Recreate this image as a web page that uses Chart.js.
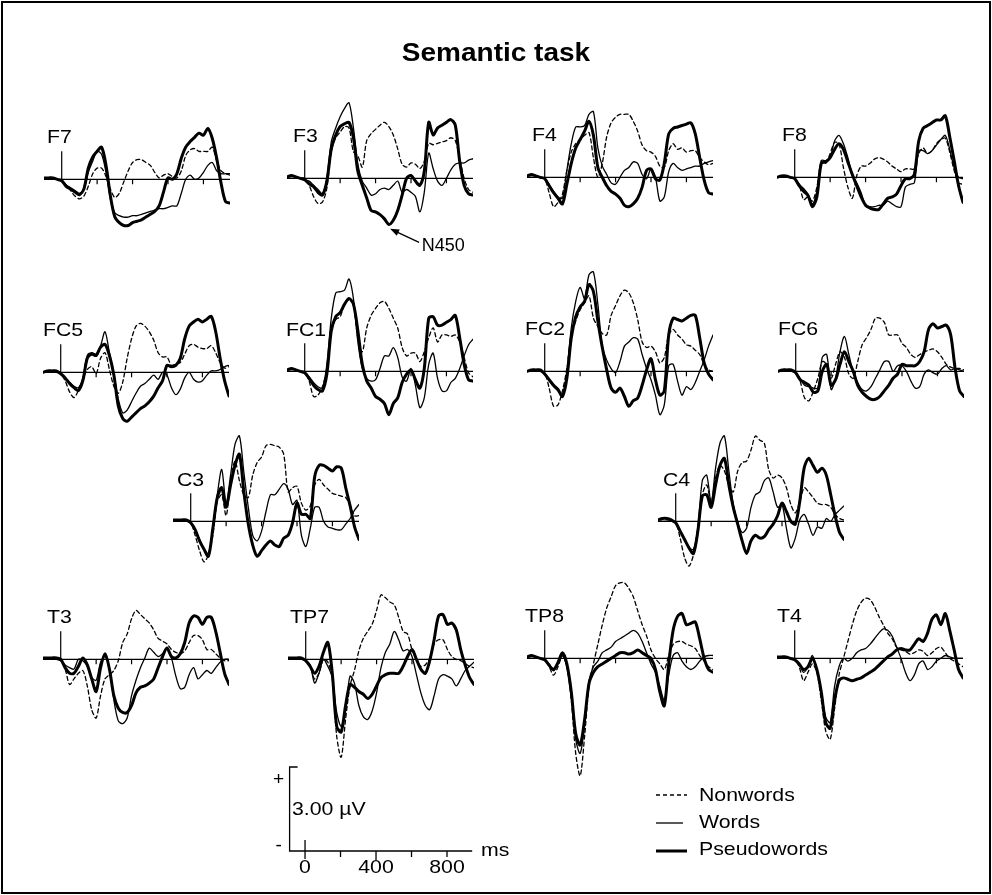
<!DOCTYPE html>
<html><head><meta charset="utf-8">
<script src="https://cdn.jsdelivr.net/npm/chart.js@4.4.1/dist/chart.umd.min.js"></script>
<style>
html,body{margin:0;padding:0;background:#fff;}
body{width:992px;height:895px;position:relative;overflow:hidden;}
canvas{position:absolute;}
#frame{position:absolute;left:1px;top:1px;width:986px;height:889px;border:2px solid #000;}
</style></head>
<body>
<div id="frame"></div>
<script>
// ---- time axis (ms) ----
const TIMES = [-100,-75,-50,-25,0,25,50,75,100,125,150,175,200,225,250,275,300,325,350,375,400,425,450,475,500,525,550,575,600,625,650,675,700,725,750,775,800,825,850,875,900,925,950];
const TICK_MS = [200,400,600,800];
const X_MIN = -100, X_MAX = 950;
const Y_MIN = -4.6, Y_MAX = 3.8; // µV
const ZERO_MARK_UV = 1.0;
const SERIES_NAMES = ['Nonwords','Words','Pseudowords'];

// ---- amplitudes (µV) ----
const F7_NON = [0,0,0,0,-0.05,-0.2,-0.4,-0.6,-0.7,-0.6,-0.25,0.2,0.4,0.4,0.1,-0.35,-0.65,-0.5,-0.1,0.3,0.6,0.7,0.7,0.6,0.5,0.25,0.05,0.15,0.2,0.1,0.05,0.3,0.85,1.05,1.1,1.0,1.0,1.0,1.15,0.65,0.3,0.2,0.15];
const F7_WORD = [0,0,0,0,-0.05,-0.2,-0.3,-0.4,-0.5,-0.35,0.25,0.65,1.0,0.9,0.25,-0.7,-1.2,-1.3,-1.35,-1.35,-1.3,-1.3,-1.25,-1.2,-1.15,-1.1,-1.05,-1.05,-1.0,-0.95,-0.95,-0.5,0,0.15,0,0.05,0.25,0.5,0.6,0.3,0.2,0.2,0.2];
const F7_PSEUDO = [0.05,0.05,0.05,0,-0.05,-0.25,-0.35,-0.45,-0.55,-0.35,0.4,0.8,1.0,1.15,0.5,-0.6,-1.35,-1.55,-1.65,-1.65,-1.55,-1.5,-1.45,-1.35,-1.25,-1.15,-0.95,-0.45,0.05,0,0.2,0.75,1.15,1.35,1.5,1.65,1.58,1.82,1.46,0.75,-0.15,-0.8,-0.85];

const F3_NON = [0,0,0,0,0,-0.25,-0.65,-0.9,-0.85,-0.35,0.95,1.45,1.65,1.85,1.8,0.95,0.8,0.4,1.35,1.6,1.75,1.9,2.0,1.85,1.55,1.05,0.5,0.4,0.55,0.5,0.35,0.6,1.25,1.2,1.25,1.3,1.35,1.45,1.35,0.7,0,-0.4,-0.5];
const F3_WORD = [0,0,0,0,-0.05,-0.1,-0.25,-0.4,-0.55,0,1.3,1.8,2.2,2.5,2.7,1.8,0.5,-0.1,-0.35,-0.6,-0.55,-0.4,-0.35,-0.4,-0.25,-0.1,-0.5,-0.4,-0.5,-0.65,-1.2,-0.5,0.9,0.35,-0.1,-0.25,0,0.3,0.5,0.55,0.55,0.65,0.7];
const F3_PSEUDO = [0.05,0.1,0.05,0,-0.05,-0.2,-0.3,-0.5,-0.6,-0.1,1.05,1.55,1.85,1.95,2.0,1.45,0.25,-0.25,-0.7,-1.15,-1.2,-1.3,-1.45,-1.65,-1.5,-1.15,-0.6,0,0.1,-0.1,-0.25,0.25,2.0,1.55,1.8,1.9,2.0,2.1,1.9,0.6,-0.25,-0.55,-0.6];

const F4_NON = [0,0,0,0,-0.05,-0.55,-1.05,-0.9,-0.6,0.25,0.9,1.2,1.35,1.5,1.6,0.7,0,0.5,1.45,1.95,2.15,2.25,2.25,2.25,2.0,1.65,1.15,0.95,0.9,0.75,0.4,0.35,0.95,1.2,1.0,1.05,0.9,0.95,0.95,0.7,0.55,0.45,0.5];
const F4_WORD = [0,0,0,0,-0.05,-0.25,-0.5,-0.7,-0.75,0.25,1.2,1.8,1.8,1.85,2.25,2.35,1.05,0.4,0.1,-0.2,-0.25,0,0.25,0.35,0.55,0.5,0.1,-0.05,0.3,0,-0.85,-0.7,0.2,0.5,0.35,0.25,0.3,0.35,0.4,0.4,0.5,0.55,0.6];
const F4_PSEUDO = [0.05,0.1,0.05,0,-0.05,-0.3,-0.55,-0.75,-0.95,-0.25,0.5,1.05,1.35,1.65,2.0,1.5,0.35,0,-0.3,-0.5,-0.6,-0.75,-1.0,-1.05,-0.95,-0.75,-0.35,0.25,0.3,-0.05,-0.1,0.5,1.55,1.75,1.8,1.85,1.9,1.95,1.55,0.7,-0.1,-0.55,-0.6];

const F8_NON = [0,0,0,0,-0.05,-0.25,-0.8,-0.7,-0.85,-0.35,0.55,0.5,0.85,1.25,1.2,0.35,-0.35,-0.75,0.05,0.4,0.4,0.5,0.65,0.7,0.65,0.55,0.4,0.3,0.2,0.3,0.3,0.3,0.85,1.05,0.85,0.95,1.2,1.35,1.4,0.9,0.25,-0.2,-0.25];
const F8_WORD = [0,0,0,0,-0.05,-0.25,-0.4,-0.6,-0.95,-0.5,0.6,0.6,0.7,1.3,1.5,1.2,0.7,0.1,-0.2,-0.55,-1.0,-1.05,-1.05,-1.0,-1.0,-0.85,-0.95,-1.05,-1.05,-0.35,-0.25,-0.2,0.95,0.95,0.85,0.95,1.15,1.35,1.5,1.0,0.35,0,-0.05];
const F8_PSEUDO = [0,0.05,0.05,0,-0.05,-0.3,-0.5,-0.65,-1.05,-0.7,0.5,0.55,0.7,1.0,1.2,1.0,0.55,0.1,-0.3,-0.7,-1.0,-1.1,-1.15,-1.15,-0.95,-0.75,-0.7,-0.6,-0.3,-0.05,-0.05,0.1,1.3,1.75,1.85,1.95,2.05,2.05,2.2,1.45,0.6,-0.3,-0.9];

const FC5_NON = [0,0,0,0,-0.05,-0.3,-0.7,-0.9,-0.65,-0.25,0.1,0.2,-0.05,0.5,0.7,0.1,-0.5,-0.75,-0.35,0.5,1.2,1.65,1.75,1.65,1.45,1.15,0.7,0.55,0.55,0.25,0.3,0.35,0.65,0.95,1.0,0.9,0.85,0.85,0.95,0.7,0.35,0.15,0.2];
const FC5_WORD = [0,0,0,0,-0.05,-0.2,-0.35,-0.5,-0.55,-0.2,0.6,0.7,0.65,0.95,1.45,0.7,-0.05,-0.95,-1.45,-1.35,-1.05,-0.75,-0.5,-0.4,-0.25,-0.1,-0.25,0,-0.1,-0.55,-0.8,-0.6,-0.2,0,-0.25,-0.35,-0.3,-0.1,0.05,0.05,0.1,0.2,0.25];
const FC5_PSEUDO = [0,0.05,0.05,0.05,-0.05,-0.2,-0.4,-0.55,-0.65,-0.3,0.5,0.65,0.6,0.9,1.0,0.6,-0.1,-1.2,-1.65,-1.75,-1.6,-1.45,-1.3,-1.2,-1.05,-0.85,-0.55,-0.3,0.25,0.2,0.25,0.5,1.2,1.65,1.8,1.9,1.8,1.9,2.0,1.45,0.5,-0.3,-0.85];

const FC1_NON = [0,0,0,0,-0.05,-0.35,-0.9,-0.85,-0.55,0.1,1.45,1.85,1.95,2.4,2.55,2.4,1.15,0.7,1.55,2.0,2.25,2.45,2.5,2.25,1.9,1.55,0.85,0.55,0.65,0.65,0.35,0.7,1.2,1.55,1.05,1.3,1.3,1.25,1.3,1.05,0.5,-0.05,-0.2];
const FC1_WORD = [0,0,0,0,-0.05,-0.2,-0.4,-0.55,-0.6,0.25,1.9,2.8,2.85,2.9,3.3,2.6,1.05,0.1,-0.25,-0.35,-0.3,0.1,0.55,0.55,0.85,0.5,-0.2,-0.35,0.1,-0.5,-1.3,-0.95,0.25,0.65,-0.25,-0.7,-0.7,-0.4,-0.25,0.1,0.55,0.95,1.15];
const FC1_PSEUDO = [0.05,0.1,0.05,0,-0.05,-0.25,-0.5,-0.65,-0.7,-0.1,1.45,1.95,2.1,2.4,2.6,2.4,1.45,0.25,-0.35,-0.6,-0.9,-1.0,-1.15,-1.55,-1.15,-0.95,-0.4,-0.1,0.05,-0.3,-0.6,0.1,1.9,1.95,1.65,1.65,1.75,1.85,2.0,1.2,0.25,-0.3,-0.35];

const FC2_NON = [0,0,0,0,-0.05,-0.6,-1.25,-1.2,-0.7,0.1,1.3,1.8,2.2,2.45,2.7,1.9,1.6,1.35,1.3,2.0,2.35,2.7,2.9,2.8,2.45,1.85,1.05,0.85,0.9,0.7,0.3,0.5,1.3,1.5,1.3,1.15,0.95,0.9,0.75,0.6,0.25,0.05,0];
const FC2_WORD = [0,0,0,0,-0.1,-0.3,-0.55,-0.7,-0.85,0,1.55,2.5,3.0,2.6,3.45,3.55,2.4,0.9,0.4,0.1,-0.05,0.35,0.9,1.05,1.2,1.15,0.6,0.1,-0.3,-0.85,-1.55,-1.2,0.2,0.25,-0.35,-0.85,-0.55,-0.65,-0.4,0,0.4,0.9,1.3];
const FC2_PSEUDO = [0,0.05,0.05,0.05,-0.1,-0.3,-0.5,-0.65,-0.9,-0.25,1.2,1.95,2.3,2.5,3.1,2.85,1.8,0.85,0.05,-0.6,-0.75,-0.6,-0.9,-1.25,-1.05,-0.95,-0.5,0.05,0.45,-0.3,-0.85,-0.7,1.3,1.9,1.85,1.8,1.9,2.0,2.0,1.2,0.3,-0.1,-0.3];

const FC6_NON = [0,0,0,0,-0.05,-0.35,-0.95,-1.05,-0.7,-0.25,0.35,0.25,-0.25,0.25,0.7,0.5,-0.1,-0.25,0.35,0.95,1.2,1.5,1.9,1.9,1.75,1.3,1.3,1.3,1.0,0.85,0.6,0.5,0.6,0.7,0.75,0.8,0.7,0.5,0.25,0.15,0.1,0.1,0.05];
const FC6_WORD = [0,0,0,0,-0.05,-0.25,-0.5,-0.55,-0.6,-0.6,0.5,0.6,-0.65,-0.25,0.7,1.25,0.6,-0.05,-0.4,-0.65,-0.7,-0.55,-0.25,0.05,0.35,0.35,0,0.2,0.2,0,-0.35,-0.6,-0.55,-0.1,0.05,-0.05,-0.1,0.1,0.2,0.05,0.1,0.05,0];
const FC6_PSEUDO = [0,0.05,0.05,0.05,-0.05,-0.3,-0.4,-0.5,-0.75,-0.7,0,0.25,-0.5,-0.3,0.25,0.7,0.35,0,-0.5,-0.75,-0.9,-1.0,-1.0,-0.9,-0.7,-0.5,-0.25,-0.1,0.25,0.2,0.2,0.2,0.35,0.7,1.5,1.7,1.55,1.6,1.65,1.3,0.1,-0.7,-0.9];

const C3_NON = [0,0,0,0,-0.05,-0.5,-1.05,-1.45,-1.2,-0.5,0.7,0.95,0.2,1.45,2.15,1.45,0.95,0.85,1.65,2.1,2.3,2.7,2.75,2.7,2.65,2.4,1.05,1.2,1.25,0.65,0.4,0.55,1.3,1.5,1.3,1.15,1.0,0.95,0.9,0.85,0.55,0.2,0.2];
const C3_WORD = [0,0,0,0,-0.05,-0.3,-0.65,-1.0,-1.15,-0.25,0.95,1.85,0.65,1.65,2.75,3.05,1.75,0.5,-0.5,-0.7,-0.35,0.35,0.95,0.95,1.15,1.35,1.15,0.6,0.75,-0.5,-0.9,-0.25,0.5,0.5,0,-0.2,-0.25,-0.3,-0.3,-0.1,0.1,0.4,0.6];
const C3_PSEUDO = [0.05,0.05,0.05,0.05,-0.05,-0.3,-0.7,-1.0,-1.25,-0.25,0.85,1.2,0.5,1.3,2.0,2.4,1.05,-0.1,-0.85,-1.25,-1.05,-0.85,-0.7,-0.85,-0.9,-0.6,-0.5,-0.05,0.65,0.25,0.25,0.1,1.6,2.0,2.0,1.9,1.8,1.95,1.9,1.2,0.55,-0.2,-0.65];

const C4_NON = [0,0,0,0,-0.05,-0.6,-1.3,-1.6,-1.2,-0.25,0.95,1.3,0.7,1.55,2.0,1.8,1.3,1.05,1.8,2.1,2.15,2.55,3.05,2.9,2.8,1.85,1.55,1.65,1.55,1.2,0.6,0.3,0.7,1.2,1.05,0.85,0.65,0.6,0.6,0.5,0.25,0.1,0.05];
const C4_WORD = [0,0,0,0,-0.05,-0.35,-0.65,-0.95,-1.0,-0.25,1.45,1.65,0.65,1.9,2.8,3.05,1.8,0.6,-0.05,-0.4,-0.25,0.5,0.95,1.05,1.45,1.55,1.05,0.5,0.6,-0.25,-0.95,-0.6,0.05,0.25,-0.1,-0.5,-0.2,-0.25,0.1,0,0.25,0.4,0.55];
const C4_PSEUDO = [0.05,0.1,0.1,0.05,-0.05,-0.35,-0.65,-0.95,-1.15,-0.35,0.9,0.95,0.5,1.3,2.0,2.25,1.3,0.5,-0.1,-0.7,-1.15,-0.7,-0.5,-0.6,-0.55,-0.3,-0.1,0.2,0.65,0.35,0,-0.1,0.7,1.9,2.25,2.0,1.75,1.9,1.65,0.95,0.2,-0.4,-0.65];

const T3_NON = [0,0,0,0,-0.05,-0.35,-0.9,-0.7,-0.5,-0.4,-0.95,-1.8,-2.1,-1.3,-0.7,-0.55,-0.4,-0.05,0.6,0.9,1.45,1.75,1.6,1.45,1.3,1.05,0.75,0.65,0.55,0.35,0.25,0.2,0.3,0.6,0.85,0.85,0.7,0.35,0.35,0.2,0.05,-0.05,-0.05];
const T3_WORD = [0,0,0,0,-0.05,-0.2,-0.3,-0.35,0,-0.05,-0.25,-0.65,-0.75,-0.1,0.1,-0.35,-1.45,-2.2,-2.3,-2.1,-1.3,-0.75,-0.3,0.05,0.4,0.25,0.1,0.2,0.4,0.05,-0.6,-1.05,-1.0,-0.55,-0.3,-0.7,-0.55,-0.4,-0.5,-0.3,-0.1,0,0];
const T3_PSEUDO = [0.05,0.05,0.05,0.05,0,-0.3,-0.5,-0.5,-0.25,0.05,-0.2,-0.7,-1.15,-0.3,0.2,-0.35,-1.3,-1.75,-1.9,-1.9,-1.65,-1.2,-1.0,-0.95,-0.85,-0.7,-0.3,0.1,0.4,0.1,0.05,0.2,0.6,1.3,1.55,1.5,1.25,1.5,1.5,1.0,0.25,-0.5,-0.9];

const TP7_NON = [0,0,0,0,-0.05,-0.25,-0.7,-0.5,0,-0.1,-0.7,-2.75,-3.5,-2.15,-0.95,-0.4,0.3,0.75,1.0,1.25,1.75,2.3,2.2,2.05,1.95,1.5,1.0,0.9,0.35,0,-0.25,-0.2,0.05,0.55,0.7,0.7,0.35,0.1,0,-0.05,-0.15,-0.25,-0.3];
const TP7_WORD = [0,0,0,0,-0.05,-0.2,-0.85,-0.5,0,-0.25,-0.65,-1.9,-2.4,-1.8,-0.6,-0.85,-1.65,-2.05,-2.15,-1.85,-1.2,-0.3,0.25,0.55,1.0,0.7,0.3,0.35,0.1,-0.55,-1.2,-1.65,-1.8,-1.3,-0.7,-0.55,-0.6,-0.7,-0.95,-0.7,-0.4,-0.25,-0.1];
const TP7_PSEUDO = [0.05,0.05,0.05,0.05,-0.05,-0.25,-0.5,-0.25,0.25,0.6,-0.5,-2.4,-2.6,-1.65,-0.9,-1.0,-1.15,-1.25,-1.4,-1.25,-0.95,-0.65,-0.55,-0.5,-0.5,-0.5,-0.25,0.1,0.35,0,-0.35,-0.5,-0.05,0.7,1.55,1.6,1.25,1.3,1.05,0.35,-0.2,-0.65,-0.9];

const TP8_NON = [0,0,0,0,-0.05,-0.3,-0.6,-0.3,0.1,-0.3,-1.5,-3.4,-4.2,-2.8,-1.0,-0.2,0.5,1.2,1.8,2.2,2.6,2.7,2.7,2.5,2.2,1.7,1.2,0.8,0.3,0,-0.2,-0.4,0.1,0.5,0.6,0.6,0.5,0.45,0.35,0.1,-0.1,-0.3,-0.4];
const TP8_WORD = [0,0,0,0,-0.05,-0.2,-0.45,-0.2,0.1,-0.3,-1.3,-2.9,-3.4,-2.4,-0.8,-0.3,-0.1,0.2,0.3,0.4,0.6,0.7,0.8,0.9,1.0,0.9,0.6,0.2,-0.2,-0.5,-1.0,-1.5,-0.6,0.1,0.2,-0.1,-0.3,-0.4,-0.3,-0.1,0.05,0.1,0.1];
const TP8_PSEUDO = [0.05,0.1,0.05,0,-0.05,-0.25,-0.4,-0.15,0.2,-0.2,-1.2,-2.7,-3.1,-2.2,-0.9,-0.5,-0.3,-0.2,-0.1,0,0.1,0.2,0.2,0.15,0.2,0.3,0.2,0.1,0,-0.4,-1.2,-1.7,-0.2,1.0,1.5,1.6,1.2,1.25,1.3,0.7,0,-0.4,-0.5];

const T4_NON = [0,0,0,0,-0.05,-0.3,-0.8,-0.5,-0.2,-0.5,-1.5,-2.6,-2.9,-1.8,-0.6,0,0.6,1.2,1.7,2.0,2.15,2.1,1.85,1.5,1.2,0.9,0.7,0.4,0.3,0.25,0.15,0.2,0.3,0.25,0.1,0.2,0.35,0.4,0.2,0,-0.1,-0.2,-0.3];
const T4_WORD = [0,0,0,0,-0.05,-0.2,-0.5,-0.3,0.1,-0.4,-1.2,-2.1,-2.3,-1.0,-0.3,0,-0.1,0,0.2,0.3,0.35,0.5,0.7,0.9,1.05,1.0,0.8,0.4,0,-0.5,-0.8,-0.6,-0.2,-0.1,-0.4,-0.3,-0.1,0,0.1,0.05,0,0,0];
const T4_PSEUDO = [0.05,0.05,0.05,0,-0.05,-0.2,-0.4,-0.3,0,-0.4,-1.2,-2.3,-2.5,-1.5,-0.8,-0.7,-0.75,-0.8,-0.75,-0.7,-0.6,-0.5,-0.4,-0.25,-0.1,0.05,0.15,0.3,0.35,0.3,0.3,0.5,0.7,0.6,0.9,1.4,1.55,1.2,1.6,1.0,0.3,-0.4,-0.7];

// N450 annotation target (on F3 pseudowords)
const N450_MS = 465, N450_UV = -1.7;

// scale bar
const BAR_X_MIN = -87, BAR_X_MAX = 942, BAR_UV = 3;
const BAR_TICKS = [0,200,400,600,800];
const BAR_LABELS = [0,400,800];

// ---- layout ----
const PANELS = [
  {name:'F7',  zx:61.7,  base:179.5, lx:47,    d:[F7_NON,F7_WORD,F7_PSEUDO]},
  {name:'F3',  zx:304.3, base:178.3, lx:292.7, d:[F3_NON,F3_WORD,F3_PSEUDO], n450:true},
  {name:'F4',  zx:545,   base:177.3, lx:532,   d:[F4_NON,F4_WORD,F4_PSEUDO]},
  {name:'F8',  zx:795,   base:177.3, lx:782,   d:[F8_NON,F8_WORD,F8_PSEUDO]},
  {name:'FC5', zx:61,    base:372,   lx:42.7,  d:[FC5_NON,FC5_WORD,FC5_PSEUDO]},
  {name:'FC1', zx:305,   base:371.7, lx:286,   d:[FC1_NON,FC1_WORD,FC1_PSEUDO]},
  {name:'FC2', zx:545,   base:371,   lx:525,   d:[FC2_NON,FC2_WORD,FC2_PSEUDO]},
  {name:'FC6', zx:795.7, base:371,   lx:777.7, d:[FC6_NON,FC6_WORD,FC6_PSEUDO]},
  {name:'C3',  zx:190.7, base:521.7, lx:176.7, d:[C3_NON,C3_WORD,C3_PSEUDO]},
  {name:'C4',  zx:675.7, base:521.7, lx:662.7, d:[C4_NON,C4_WORD,C4_PSEUDO]},
  {name:'T3',  zx:61,    base:659.3, lx:47.3,  d:[T3_NON,T3_WORD,T3_PSEUDO]},
  {name:'TP7', zx:306,   base:659,   lx:290,   d:[TP7_NON,TP7_WORD,TP7_PSEUDO]},
  {name:'TP8', zx:545,   base:658,   lx:525,   d:[TP8_NON,TP8_WORD,TP8_PSEUDO]},
  {name:'T4',  zx:795,   base:658,   lx:777,   d:[T4_NON,T4_WORD,T4_PSEUDO]}
];
const AREA_W = 186, AREA_H = 235, PAD = 6;
const FONT = '"Liberation Sans", Arial, Helvetica, sans-serif';

function addText(str, x, baseline, o) {
  o = o || {};
  const size = o.size || 19, sx = o.sx || 1.12;
  const d = document.createElement('div');
  d.textContent = str;
  d.style.cssText = 'position:absolute;white-space:nowrap;color:#000;font-family:' + FONT +
    ';font-size:' + size + 'px;line-height:' + size + 'px;font-weight:' + (o.bold ? 'bold' : 'normal') +
    ';left:' + x + 'px;top:' + (baseline - 0.8465 * size) + 'px;';
  if (o.align === 'center') { d.style.transform = 'translateX(-50%) scaleX(' + sx + ')'; d.style.transformOrigin = 'center'; }
  else { d.style.transform = 'scaleX(' + sx + ')'; d.style.transformOrigin = 'left center'; }
  document.body.appendChild(d);
  return d;
}

const erpAxes = {
  id: 'erpAxes',
  beforeDatasetsDraw(chart) {
    const {ctx, scales: {x, y}} = chart;
    const y0 = y.getPixelForValue(0);
    ctx.save();
    ctx.strokeStyle = '#000'; ctx.lineWidth = 1.2;
    ctx.beginPath();
    ctx.moveTo(x.getPixelForValue(X_MIN), y0); ctx.lineTo(x.getPixelForValue(X_MAX), y0);
    TICK_MS.forEach(t => { const px = x.getPixelForValue(t); ctx.moveTo(px, y0); ctx.lineTo(px, y0 + 5); });
    const zx = x.getPixelForValue(0);
    ctx.moveTo(zx, y0); ctx.lineTo(zx, y.getPixelForValue(ZERO_MARK_UV));
    ctx.stroke();
    ctx.restore();
  }
};

const n450Arrow = {
  id: 'n450Arrow',
  afterDatasetsDraw(chart) {
    const {ctx, scales: {x, y}} = chart;
    const tx = x.getPixelForValue(N450_MS) + 3, ty = y.getPixelForValue(N450_UV) + 3;
    const ex = tx + 29, ey = ty + 13.5;
    const a = Math.atan2(ey - ty, ex - tx);
    ctx.save();
    ctx.strokeStyle = '#000'; ctx.fillStyle = '#000'; ctx.lineWidth = 1.3;
    ctx.beginPath(); ctx.moveTo(ex, ey); ctx.lineTo(tx + 6 * Math.cos(a), ty + 6 * Math.sin(a)); ctx.stroke();
    const L = 9, W = 3.5;
    ctx.beginPath();
    ctx.moveTo(tx, ty);
    ctx.lineTo(tx + L * Math.cos(a) - W * Math.sin(a), ty + L * Math.sin(a) + W * Math.cos(a));
    ctx.lineTo(tx + L * Math.cos(a) + W * Math.sin(a), ty + L * Math.sin(a) - W * Math.cos(a));
    ctx.closePath(); ctx.fill();
    ctx.restore();
  }
};

function pts(vals) { return TIMES.map((t, i) => ({x: t, y: vals[i]})); }

const STYLES = [
  {borderWidth: 1.3, borderDash: [4, 3]},
  {borderWidth: 1.3, borderDash: []},
  {borderWidth: 3, borderDash: []}
];

PANELS.forEach(p => {
  const cv = document.createElement('canvas');
  const W = AREA_W + 2 * PAD, H = AREA_H + 2 * PAD;
  cv.width = W; cv.height = H;
  cv.style.width = W + 'px'; cv.style.height = H + 'px';
  const pxPerMs = AREA_W / (X_MAX - X_MIN), pxPerUv = AREA_H / (Y_MAX - Y_MIN);
  cv.style.left = (p.zx - (0 - X_MIN) * pxPerMs - PAD) + 'px';
  cv.style.top = (p.base - Y_MAX * pxPerUv - PAD) + 'px';
  document.body.appendChild(cv);
  new Chart(cv, {
    type: 'line',
    data: {datasets: p.d.map((vals, i) => Object.assign({
      label: SERIES_NAMES[i], data: pts(vals), borderColor: '#000', backgroundColor: '#000',
      pointRadius: 0, tension: 0.3, fill: false, borderJoinStyle: 'round', borderCapStyle: 'round'
    }, STYLES[i]))},
    options: {
      responsive: false, animation: false, devicePixelRatio: 1, events: [],
      layout: {padding: PAD},
      scales: {
        x: {type: 'linear', min: X_MIN, max: X_MAX, display: false},
        y: {type: 'linear', min: Y_MIN, max: Y_MAX, display: false}
      },
      plugins: {legend: {display: false}, tooltip: {enabled: false}}
    },
    plugins: p.n450 ? [erpAxes, n450Arrow] : [erpAxes]
  });
  addText(p.name, p.lx, p.base - 36);
});

// title & annotation
addText('Semantic task', 496, 61, {size: 25, bold: true, align: 'center'});
addText('N450', 421.7, 251.7, {size: 18, sx: 1.0});

// ---- scale bar + legend samples ----
const BAR_LEFT = 260, BAR_TOP = 755, BAR_W = 570, BAR_H = 130;
const LEG = [ {y: 795, x1: 656, x2: 687}, {y: 823, x1: 656, x2: 683}, {y: 851, x1: 656, x2: 687} ];
const barPlugin = {
  id: 'scaleBar',
  afterDraw(chart) {
    const {ctx, scales: {x, y}} = chart;
    const x0 = x.getPixelForValue(BAR_X_MIN), y0 = y.getPixelForValue(0), yt = y.getPixelForValue(BAR_UV);
    ctx.save();
    ctx.strokeStyle = '#000'; ctx.lineWidth = 1.3;
    ctx.beginPath();
    ctx.moveTo(x0 + 8, yt); ctx.lineTo(x0, yt); ctx.lineTo(x0, y0); ctx.lineTo(x.getPixelForValue(BAR_X_MAX), y0);
    BAR_TICKS.forEach(t => {
      const px = x.getPixelForValue(t);
      if (t === 0) { ctx.moveTo(px, y0 - 11); ctx.lineTo(px, y0 + 8); }
      else { ctx.moveTo(px, y0); ctx.lineTo(px, y0 + (t === 400 ? 9 : 6)); }
    });
    ctx.stroke();
    // legend samples
    LEG.forEach((l, i) => {
      ctx.beginPath();
      ctx.lineWidth = STYLES[i].borderWidth;
      ctx.setLineDash(STYLES[i].borderDash);
      ctx.moveTo(l.x1 - BAR_LEFT, l.y - BAR_TOP); ctx.lineTo(l.x2 - BAR_LEFT, l.y - BAR_TOP);
      ctx.stroke();
    });
    ctx.restore();
  }
};
const bc = document.createElement('canvas');
bc.width = BAR_W; bc.height = BAR_H;
bc.style.width = BAR_W + 'px'; bc.style.height = BAR_H + 'px';
bc.style.left = BAR_LEFT + 'px'; bc.style.top = BAR_TOP + 'px';
document.body.appendChild(bc);
const barChart = new Chart(bc, {
  type: 'line',
  data: {datasets: []},
  options: {
    responsive: false, animation: false, devicePixelRatio: 1, events: [],
    layout: {padding: {left: 29.6, right: 357.8, top: 12, bottom: 34}},
    scales: {
      x: {type: 'linear', min: BAR_X_MIN, max: BAR_X_MAX, display: false},
      y: {type: 'linear', min: 0, max: BAR_UV, display: false}
    },
    plugins: {legend: {display: false}, tooltip: {enabled: false}}
  },
  plugins: [barPlugin]
});
(function () {
  const sx = barChart.scales.x, sy = barChart.scales.y;
  const x0 = BAR_LEFT + sx.getPixelForValue(BAR_X_MIN);
  const y0 = BAR_TOP + sy.getPixelForValue(0);
  const yt = BAR_TOP + sy.getPixelForValue(BAR_UV);
  BAR_LABELS.forEach(v => addText(String(v), BAR_LEFT + sx.getPixelForValue(v), y0 + 22, {align: 'center'}));
  addText('+', x0 - 11, yt + 18, {align: 'center', sx: 1.0});
  addText('-', x0 - 11, y0 - 0, {align: 'center', sx: 1.0});
  addText('3.00 \u00b5V', x0 + 2, (yt + y0) / 2 + 6.5);
  addText('ms', BAR_LEFT + sx.getPixelForValue(BAR_X_MAX) + 8.5, y0 + 5);
  SERIES_NAMES.forEach((n, i) => addText(n, 699, LEG[i].y + 6.5 - (i === 0 ? 0 : 1) - (i === 2 ? 1 : 0)));
})();
</script>
</body></html>
